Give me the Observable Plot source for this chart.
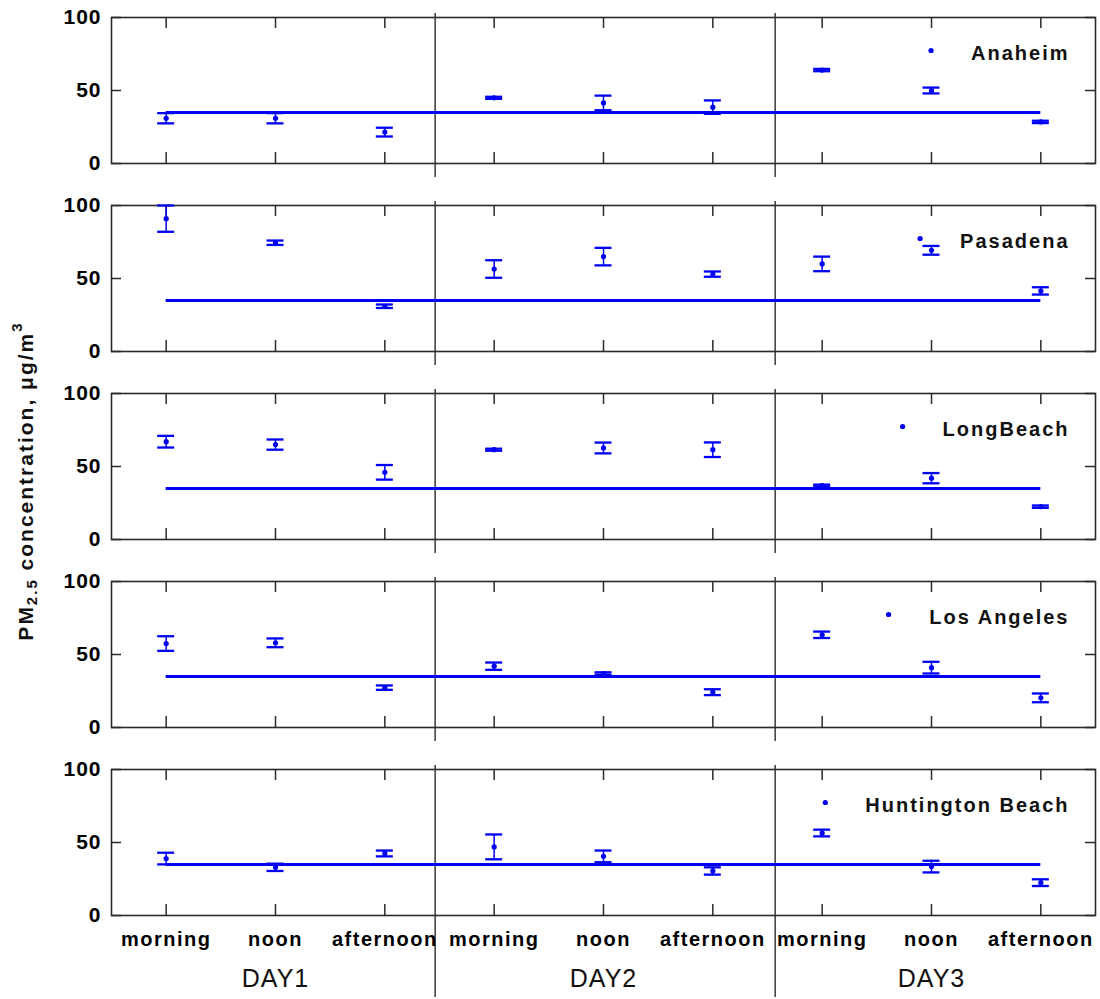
<!DOCTYPE html>
<html>
<head>
<meta charset="utf-8">
<script src="https://cdn.jsdelivr.net/npm/d3@7"></script>
<script src="https://cdn.jsdelivr.net/npm/@observablehq/plot@0.6"></script>
<style>
  body { margin: 0; background: #fff; }
  #chart { width: 1100px; height: 999px; }
</style>
</head>
<body>
<div id="chart"></div>
<script>
// Sites, sampling slots and days
const cities = ["Anaheim", "Pasadena", "LongBeach", "Los Angeles", "Huntington Beach"];
const periods = ["morning", "noon", "afternoon"];
const days = ["DAY1", "DAY2", "DAY3"];

// Mean PM2.5 (µg/m³) and half-range for each slot: DAY1 morning … DAY3 afternoon
const anaheimMean = [31, 31, 21.5, 45, 41.5, 38.6, 64, 50, 28.5];
const anaheimErr  = [3.5, 3.5, 3, 0.7, 5, 4.6, 0.8, 2, 0.8];
const pasadenaMean = [91, 74.5, 31, 56.5, 65, 53, 60, 69.3, 41.5];
const pasadenaErr  = [9, 1.5, 1.2, 6, 6, 1.8, 5, 3, 2.5];
const longBeachMean = [67, 65, 46, 61.5, 62.7, 61.5, 37, 42, 22.5];
const longBeachErr  = [4, 3.5, 5, 0.7, 3.7, 5, 0.6, 3.5, 0.8];
const losAngelesMean = [57.5, 58, 27.3, 42, 37, 24.2, 63.5, 41, 20.3];
const losAngelesErr  = [5, 3, 1.5, 2.5, 0.8, 2, 2.2, 4, 3];
const huntingtonMean = [39, 33, 42.5, 47, 40.5, 30.5, 56.5, 33.5, 22.5];
const huntingtonErr  = [4, 2.5, 2, 8.5, 4, 2.5, 2.3, 4, 2.3];

// 24-h PM2.5 standard drawn as a reference line
const standard = 35;
// Slot positions where one day ends and the next begins
const dayBreaks = [3.46, 6.57];

const means = [anaheimMean, pasadenaMean, longBeachMean, losAngelesMean, huntingtonMean];
const errs = [anaheimErr, pasadenaErr, longBeachErr, losAngelesErr, huntingtonErr];
const rows = cities.flatMap((city, ci) =>
  means[ci].map((mean, i) => ({city, slot: i + 1, mean, err: errs[ci][i]}))
);
const slots = d3.range(1, 10);
const lastCity = cities[cities.length - 1];

// Layout
const W = 1100, H = 999;
const mL = 111, mR = 5, mT = 17, mB = 84;
const panelH = 146, gap = 42;
const xDomain = [0.5, 9.5];
const pxPerX = (W - mL - mR) / (xDomain[1] - xDomain[0]);
const pxPerY = panelH / 100;
const blue = "#0000f2";
const ink = "#2a2a2a";
const capHalf = 8.5 / pxPerX;
const xTick = 11 / pxPerY;
const yTick = 10 / pxPerX;
const fontFamily = "'Liberation Sans', Arial, Helvetica, sans-serif";

// Legend placement (right-aligned label, marker to its left)
const legendRight = xDomain[0] + (1069 - mL) / pxPerX;
const legendTextY = 100 - 36 / pxPerY;
const legendDotY = 100 - 33 / pxPerY;
const legendFont = 20, legendSpacing = 2;
const ctx = document.createElement("canvas").getContext("2d");
ctx.font = `bold ${legendFont}px ${fontFamily}`;
const labelWidth = (s) => ctx.measureText(s).width + legendSpacing * s.length;

const plot = Plot.plot({
  width: W,
  height: H,
  marginLeft: mL,
  marginRight: mR,
  marginTop: mT,
  marginBottom: mB,
  style: {fontFamily, background: "white", overflow: "visible"},
  x: {domain: xDomain, label: null},
  y: {domain: [0, 100], label: null},
  fy: {domain: cities, paddingInner: gap / (gap + panelH), paddingOuter: 0, round: false, axis: null, label: null},
  marks: [
    // day separators, running past each panel
    Plot.ruleX(cities.flatMap((city) => dayBreaks.map((x) => ({city, x}))), {
      x: "x",
      fy: "city",
      y1: 100 + 4 / pxPerY,
      y2: (d) => (d.city === lastCity ? -82 / pxPerY : -14 / pxPerY),
      stroke: ink,
      strokeWidth: 1.4
    }),
    Plot.frame({stroke: ink, strokeWidth: 1.6}),
    // inward ticks on all four sides
    Plot.ruleX(slots, {x: (d) => d, y1: 0, y2: xTick, stroke: ink, strokeWidth: 1.5}),
    Plot.ruleX(slots, {x: (d) => d, y1: 100 - xTick, y2: 100, stroke: ink, strokeWidth: 1.5}),
    Plot.ruleY([0, 50, 100], {y: (d) => d, x1: xDomain[0], x2: xDomain[0] + yTick, stroke: ink, strokeWidth: 1.5}),
    Plot.ruleY([0, 50, 100], {y: (d) => d, x1: xDomain[1] - yTick, x2: xDomain[1], stroke: ink, strokeWidth: 1.5}),
    Plot.axisY({ticks: [0, 50, 100], tickSize: 0, tickPadding: 10, fontSize: 21, fontWeight: "bold", label: null}),
    Plot.axisX({
      ticks: slots,
      tickFormat: (d) => periods[(d - 1) % 3],
      tickSize: 0,
      tickPadding: 16,
      fontSize: 20,
      fontWeight: "bold",
      label: null
    }),
    Plot.text(days, {
      x: (d, i) => 3 * i + 2,
      y: 0,
      fy: () => lastCity,
      text: (d) => d,
      dy: 63,
      fontSize: 25,
      fill: "#111"
    }),
    // standard line
    Plot.ruleY([standard], {y: (d) => d, x1: 1, x2: 9, stroke: blue, strokeWidth: 3}),
    // error bars with caps
    Plot.ruleX(rows, {x: "slot", y1: (d) => d.mean - d.err, y2: (d) => d.mean + d.err, fy: "city", stroke: blue, strokeWidth: 1.5}),
    Plot.ruleY(rows, {y: (d) => d.mean + d.err, x1: (d) => d.slot - capHalf, x2: (d) => d.slot + capHalf, fy: "city", stroke: blue, strokeWidth: 2.3}),
    Plot.ruleY(rows, {y: (d) => d.mean - d.err, x1: (d) => d.slot - capHalf, x2: (d) => d.slot + capHalf, fy: "city", stroke: blue, strokeWidth: 2.3}),
    Plot.dot(rows, {x: "slot", y: "mean", fy: "city", r: 2.6, fill: blue, stroke: null}),
    // legend per panel
    Plot.text(cities, {
      x: legendRight,
      y: legendTextY,
      fy: (d) => d,
      text: (d) => d,
      textAnchor: "end",
      fontSize: legendFont,
      fontWeight: "bold",
      fill: "#111"
    }),
    Plot.dot(cities, {
      x: (d) => legendRight - (labelWidth(d) + 40) / pxPerX,
      y: legendDotY,
      fy: (d) => d,
      r: 2.6,
      fill: blue,
      stroke: null
    })
  ]
});

const svg = d3.select(plot);
svg.style("letter-spacing", "1px");
svg.selectAll("text")
  .filter(function () { return cities.includes(this.textContent); })
  .style("letter-spacing", legendSpacing + "px");
svg.selectAll("text")
  .filter(function () { return periods.includes(this.textContent); })
  .style("letter-spacing", "1.5px");

// Shared y-axis title with subscript and superscript
const title = svg.append("text")
  .attr("transform", "translate(27,481) rotate(-90)")
  .attr("text-anchor", "middle")
  .attr("dominant-baseline", "middle")
  .attr("font-size", 21)
  .attr("font-weight", "bold")
  .style("letter-spacing", "2px")
  .attr("fill", "#111");
title.append("tspan").text("PM");
title.append("tspan").attr("font-size", 15).attr("dy", 6).text("2.5");
title.append("tspan").attr("dy", -6).text(" concentration, μg/m");
title.append("tspan").attr("font-size", 15).attr("dy", -9).text("3");

document.getElementById("chart").appendChild(plot);
</script>
</body>
</html>
